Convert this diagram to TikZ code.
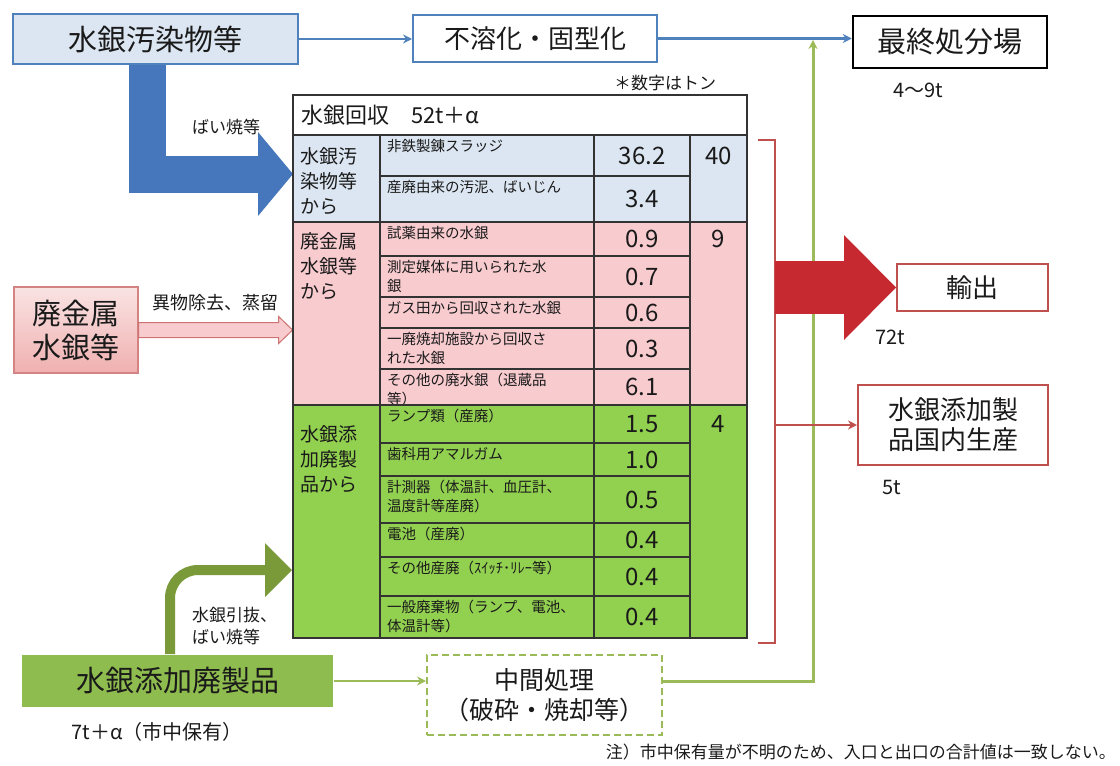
\documentclass[tikz,border=0pt]{standalone}
\usepackage{fontspec}
\setmainfont{Noto Sans CJK JP}
\usetikzlibrary{arrows.meta,positioning}

\definecolor{srcblue}{HTML}{4F81BD}
\definecolor{paleblue}{HTML}{DCE6F2}
\definecolor{fatblue}{HTML}{4677BC}
\definecolor{tblpink}{HTML}{F8CBCF}
\definecolor{tblgreen}{HTML}{92D050}
\definecolor{wastegreen}{HTML}{8FBC4F}
\definecolor{olive}{HTML}{7A9A3A}
\definecolor{lightgreen}{HTML}{9BBB59}
\definecolor{exportred}{HTML}{C62A30}
\definecolor{boxred}{HTML}{C0504D}
\definecolor{pinkbox}{HTML}{F0B0B0}
\definecolor{inkgray}{HTML}{1A1A1A}

\begin{document}
\begin{tikzpicture}[x=1pt,y=-1pt,every node/.append style={text=inkgray},
	box/.style={draw,line width=2pt,inner sep=0pt,align=center},
	bigtxt/.style={font=\fontsize{29}{34}\selectfont},
	midtxt/.style={font=\fontsize{25}{30}\selectfont},
	lbl/.style={inner sep=0pt,font=\fontsize{17}{22}\selectfont},
	wt/.style={inner sep=0pt,font=\fontsize{20}{24}\selectfont},
	flow/.style={line width=2.5pt,-{Stealth[length=9pt,width=9pt]}},
	tblline/.style={draw=black!80,line width=1.2pt},
	itemtxt/.style={anchor=north west,inner sep=0pt,align=left,font=\fontsize{14.5}{19}\selectfont},
	cattxt/.style={anchor=north west,inner sep=0pt,align=left,font=\fontsize{19}{25}\selectfont},
	valtxt/.style={inner sep=0pt,font=\fontsize{24}{28}\selectfont}]

	\useasboundingbox (0,0) rectangle (1120,766);

	% top row
	\node[box,draw=srcblue,fill=paleblue,minimum width=285pt,minimum height=50pt,bigtxt] (pollut) at (155.5,39) {水銀汚染物等};
	\node[box,draw=srcblue,fill=white,minimum width=244pt,minimum height=47pt,font=\fontsize{26}{30}\selectfont] (fuyo) at (535,38.5) {不溶化・固型化};
	\node[box,draw=black,line width=2.5pt,minimum width=194pt,minimum height=52pt,bigtxt] (final) at (950,42) {最終処分場};
	\node[wt] (finalwt) at (918,90) {4〜9t};
	\draw[flow,srcblue] (pollut.east) -- (pollut.east -| fuyo.west);
	\draw[flow,srcblue] (fuyo.east) -- (fuyo.east -| final.west);

	\coordinate (tin) at (293,174);
	\draw[fatblue,line width=37pt,-{Triangle[length=35pt,width=84pt,line width=0pt]}] ([xshift=-8pt]pollut.south) |- (tin);
	\node[lbl] (pollutop) at (226,127) {ばい焼等};

	% left inputs
	\node[box,draw=boxred!70,top color=pinkbox!35,bottom color=pinkbox,line width=1.2pt,minimum width=124pt,minimum height=86pt,bigtxt] (metal) at (76,330) {廃金属\\水銀等};
	\node[lbl,font=\fontsize{18}{22}\selectfont] (metalop) at (215,303) {異物除去、蒸留};
	\draw[boxred!80,fill=tblpink,line width=1pt] ([yshift=7.5pt]metal.east) -- ++(140,0) -- ++(0,-6) -- ++(14,13.5) -- ++(-14,13.5) -- ++(0,-6) -- ++(-140,0) -- cycle;

	\node[box,draw=none,fill=wastegreen,minimum width=311pt,minimum height=52pt,bigtxt] (waste) at (177.5,681) {水銀添加廃製品};
	\node[wt] (wastewt) at (157,732) {7t＋α（市中保有）};
	\node[box,draw=lightgreen,dash pattern=on 7pt off 4pt,fill=white,minimum width=235pt,minimum height=80pt,midtxt] (mid) at (544.5,695) {中間処理\\（破砕・焼却等）};
	\draw[flow,lightgreen] (waste.east) -- (waste.east -| mid.west);

	\coordinate (gin) at (292,570);
	\draw[olive,line width=10pt,rounded corners=28pt,-{Triangle[length=27pt,width=54pt,line width=0pt]}] ([xshift=-7.5pt]waste.north) |- (gin);
	\node[lbl,anchor=west,align=left] (wasteop) at (192,626) {水銀引抜、\\ばい焼等};

	\coordinate (gup) at (813,40);
	\draw[flow,lightgreen,line width=3pt] (mid.east |- waste.east) -| (gup);

	% table
	\node[lbl] (unit) at (665,83) {＊数字はトン};
	\draw[tblline,fill=white] (293,95) rectangle (747,135);
	\node[anchor=west,inner sep=0pt,font=\fontsize{22}{26}\selectfont] (head) at (301,115) {水銀回収　52t＋α};

	\foreach \ya/\yb/\col/\cat/\tot/\ty/\off [count=\j] in {135/222/paleblue/{水銀汚\\染物等\\から}/40/155.5/12, 222/405/tblpink/{廃金属\\水銀等\\から}/9/239/10, 405/638/tblgreen/{水銀添\\加廃製\\品から}/4/424/20}
	{
		\fill[\col] (293,\ya) rectangle (747,\yb);
		\node[cattxt] (cat\j) at (300,\ya+\off) {\cat};
		\node[valtxt] (sum\j) at (718.5,\ty) {\tot};
	}

	\foreach \ya/\yb/\txt/\val [count=\i] in {
		135/176/{非鉄製錬スラッジ}/36.2,
		176/222/{産廃由来の汚泥、ばいじん}/3.4,
		222/256/{試薬由来の水銀}/0.9,
		256/297/{測定媒体に用いられた水\\銀}/0.7,
		297/328/{ガス田から回収された水銀}/0.6,
		328/369/{一廃焼却施設から回収さ\\れた水銀}/0.3,
		369/405/{その他の廃水銀（退蔵品\\等）}/6.1,
		405/443/{ランプ類（産廃）}/1.5,
		443/476/{歯科用アマルガム}/1.0,
		476/523/{計測器（体温計、血圧計、\\温度計等産廃）}/0.5,
		523/557/{電池（産廃）}/0.4,
		557/596/{その他産廃（ｽｲｯﾁ･ﾘﾚｰ等）}/0.4,
		596/638/{一般廃棄物（ランプ、電池、\\体温計等）}/0.4}
	{
		\draw[tblline] (380,\ya) rectangle (690,\yb) (594,\ya) -- (594,\yb);
		\node[itemtxt] (item\i) at (387,\ya+4) {\txt};
		\node[valtxt] (val\i) at (642,{(\ya+\yb)/2}) {\val};
	}

	\foreach \ya/\yb in {135/222,222/405,405/638}
		\draw[tblline] (293,\ya) rectangle (380,\yb) (690,\ya) rectangle (747,\yb);
	\draw[tblline] (293,95) rectangle (747,638);

	% outputs
	\coordinate (brk) at (775,140);
	\draw[boxred,line width=2pt] (758,140) -- (brk) -- (775,643) -- (758,643);

	\node[box,draw=boxred,fill=white,minimum width=151pt,minimum height=47pt,font=\fontsize{26}{30}\selectfont] (export) at (972.5,287.5) {輸出};
	\node[wt] (exportwt) at (890,337) {72t};
	\draw[exportred,line width=53pt,-{Triangle[length=52pt,width=105pt,line width=0pt]}] (export.west -| brk) -- (export.west);

	\node[box,draw=boxred,fill=white,minimum width=190pt,minimum height=80pt,font=\fontsize{26}{30}\selectfont] (domestic) at (953,425) {水銀添加製\\品国内生産};
	\node[wt] (domesticwt) at (892,487) {5t};
	\draw[flow,boxred,line width=2pt] (domestic.west -| brk) -- (domestic.west);

	\node[lbl,anchor=east] (note) at (1116,752) {注）市中保有量が不明のため、入口と出口の合計値は一致しない。};

\end{tikzpicture}
\end{document}
